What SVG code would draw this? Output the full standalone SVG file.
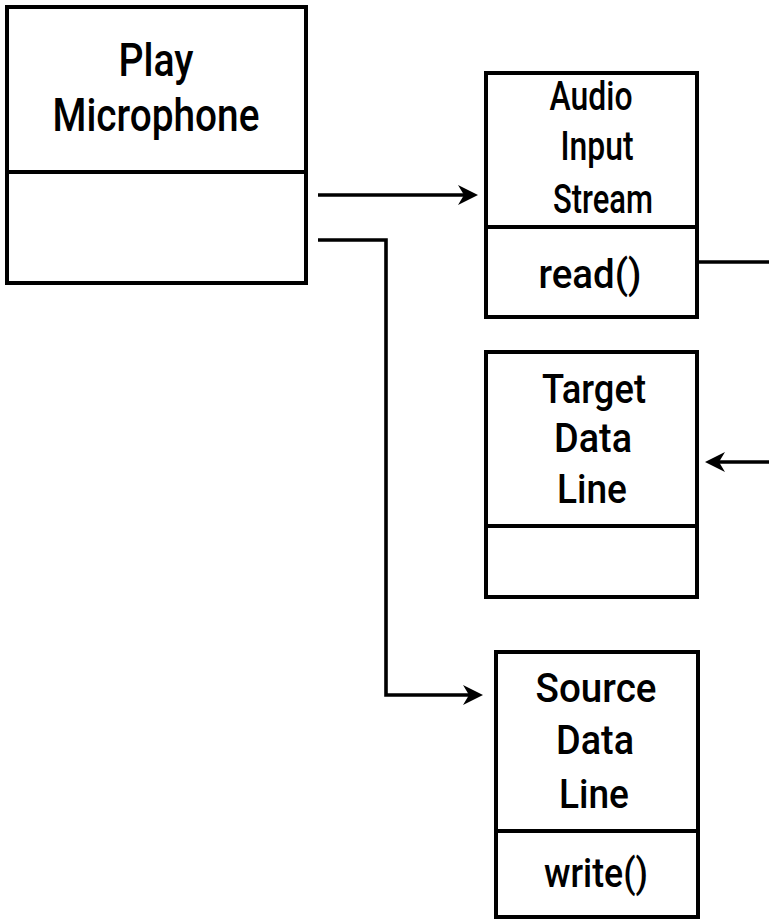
<svg xmlns="http://www.w3.org/2000/svg" width="769" height="919" viewBox="0 0 769 919">
  <style>
    .box { fill: #ffffff; stroke: #000000; stroke-width: 4; }
    .div { stroke: #000000; stroke-width: 4; fill: none; }
    .conn { stroke: #000000; stroke-width: 3.6; fill: none; }
    .lbl { font-family: Roboto, "Liberation Sans", Arial, sans-serif; font-weight: 500; font-size: 40px; fill: #000000; text-anchor: middle; }
    .big { font-size: 46px; }
  </style>
  <defs>
    <marker id="arrow" viewBox="-7 -11 22 22" refX="0" refY="0" markerWidth="22" markerHeight="22" markerUnits="userSpaceOnUse" orient="auto">
      <path d="M14,0 L-6,-10 L0,0 L-6,10 Z" fill="#000000"/>
    </marker>
  </defs>
  <rect width="769" height="919" fill="#ffffff"/>

  <!-- Play Microphone class -->
  <g id="play-microphone">
    <rect class="box" x="7" y="7" width="299" height="276"/>
    <line class="div" x1="7" y1="172" x2="306" y2="172"/>
    <text class="lbl big" x="156" y="76" textLength="75" lengthAdjust="spacingAndGlyphs">Play</text>
    <text class="lbl big" x="156" y="131" textLength="207" lengthAdjust="spacingAndGlyphs">Microphone</text>
  </g>

  <!-- AudioInputStream class -->
  <g id="audio-input-stream">
    <rect class="box" x="486" y="73" width="211" height="244"/>
    <line class="div" x1="486" y1="227" x2="697" y2="227"/>
    <text class="lbl" x="591" y="110" textLength="83" lengthAdjust="spacingAndGlyphs">Audio</text>
    <text class="lbl" x="597" y="160" textLength="73" lengthAdjust="spacingAndGlyphs">Input</text>
    <text class="lbl" x="603" y="213" textLength="100" lengthAdjust="spacingAndGlyphs">Stream</text>
    <text class="lbl" x="590" y="288" textLength="103" lengthAdjust="spacingAndGlyphs">read()</text>
  </g>

  <!-- TargetDataLine class -->
  <g id="target-data-line">
    <rect class="box" x="486" y="352" width="211" height="245"/>
    <line class="div" x1="486" y1="526" x2="697" y2="526"/>
    <text class="lbl" x="594" y="403" textLength="104" lengthAdjust="spacingAndGlyphs">Target</text>
    <text class="lbl" x="593" y="452" textLength="78" lengthAdjust="spacingAndGlyphs">Data</text>
    <text class="lbl" x="592" y="503" textLength="70" lengthAdjust="spacingAndGlyphs">Line</text>
  </g>

  <!-- SourceDataLine class -->
  <g id="source-data-line">
    <rect class="box" x="496" y="652" width="202" height="265"/>
    <line class="div" x1="496" y1="831" x2="698" y2="831"/>
    <text class="lbl" x="596" y="702" textLength="121" lengthAdjust="spacingAndGlyphs">Source</text>
    <text class="lbl" x="595" y="754" textLength="78" lengthAdjust="spacingAndGlyphs">Data</text>
    <text class="lbl" x="594" y="808" textLength="70" lengthAdjust="spacingAndGlyphs">Line</text>
    <text class="lbl" x="596" y="887" textLength="104" lengthAdjust="spacingAndGlyphs">write()</text>
  </g>

  <!-- connectors -->
  <g id="connectors">
    <line class="conn" x1="318" y1="195" x2="464" y2="195" marker-end="url(#arrow)"/>
    <polyline class="conn" points="318,240 386,240 386,695 469,695" marker-end="url(#arrow)"/>
    <line class="conn" x1="697" y1="262" x2="769" y2="262"/>
    <line class="conn" x1="769" y1="462" x2="719" y2="462" marker-end="url(#arrow)"/>
  </g>
</svg>
